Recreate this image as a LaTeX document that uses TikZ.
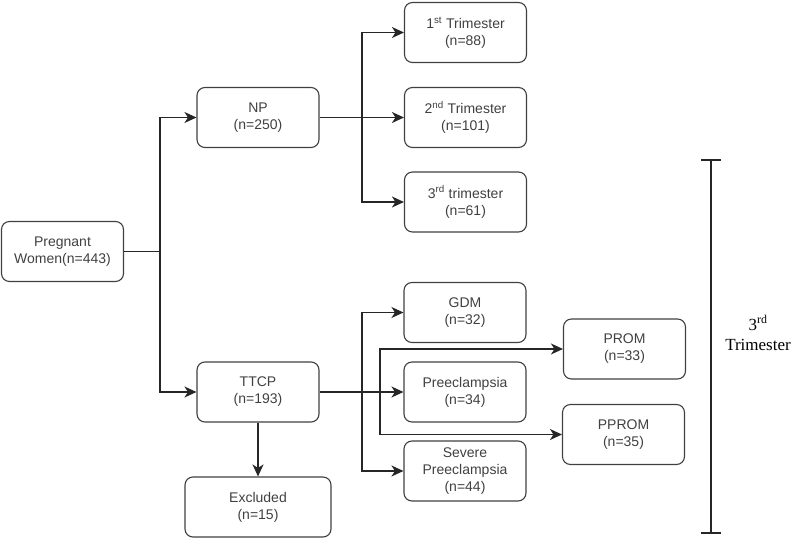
\documentclass[tikz,border=0pt]{standalone}
\usepackage{fontspec}
\setmainfont{Liberation Sans}
\newfontfamily\timesfont{Liberation Serif}
\usetikzlibrary{arrows.meta}
\begin{document}
\begin{tikzpicture}[x=1pt,y=-1pt]
		\tikzset{vertex/.style = {draw=black!75, rounded corners=8pt, minimum width=122pt, minimum height=60pt, inner sep=2pt, align=center, text=black!75, line width=1.1pt, font=\fontsize{14}{17}\selectfont}}
		\tikzset{edge/.style = {-{Stealth[length=12pt,width=11pt,inset=3.5pt]}, line width=1.2pt, black!85}}
		
		\useasboundingbox (0,0) rectangle (800,540);
		
		\node[vertex]  (1) at (62.5, 251.5) {Pregnant\\Women(n=443)};
		\node[vertex]  (2) at ( 258, 117.5) {NP\\(n=250)};
		\node[vertex]  (3) at ( 258,   392) {TTCP\\(n=193)};
		\node[vertex, minimum width=146pt] (4) at (258, 507) {Excluded\\(n=15)};
		\node[vertex]  (5) at (465.5,  32.5) {1\textsuperscript{st} Trimester\\(n=88)};
		\node[vertex]  (6) at (465.5, 117.5) {2\textsuperscript{nd} Trimester\\(n=101)};
		\node[vertex]  (7) at (465.5,   202) {3\textsuperscript{rd} trimester\\(n=61)};
		\node[vertex]  (8) at ( 465, 312.5) {GDM\\(n=32)};
		\node[vertex]  (9) at ( 465,   392) {Preeclampsia\\(n=34)};
		\node[vertex] (10) at ( 465,   471) {Severe\\Preeclampsia\\(n=44)};
		\node[vertex] (11) at (624.5,   349) {PROM\\(n=33)};
		\node[vertex] (12) at (623.5, 434.5) {PPROM\\(n=35)};
		
		\node[align=center, font=\timesfont\fontsize{17}{20}\selectfont] (13) at (758, 333) {3\textsuperscript{rd}\\Trimester};
		
		\coordinate (s1) at (160, 251.5);
		\coordinate (s2) at (362, 117.5);
		\coordinate (s3) at (362,   392);
		\coordinate (s4) at (380,   392);
		
		\draw[line width=1.2pt, black!85] (1) -- (s1);
		\draw[edge] (s1) |- (2);
		\draw[edge] (s1) |- (3);
		\draw[edge] (2) -- (6);
		\draw[edge] (s2) |- (5);
		\draw[edge] (s2) |- (7);
		\draw[edge] (3) -- (9);
		\draw[edge] (s3) |- (8);
		\draw[edge] (s3) |- (10);
		\draw[edge] (s4) |- (11);
		\draw[edge] (s4) |- (12);
		\draw[edge] (3) -- (4);
		
		% bracket for the 3rd trimester
		\draw[line width=1.2pt, black!85] (711,160) -- (711,533) (701,160) -- (721,160) (701,533) -- (721,533);
\end{tikzpicture}
\end{document}
